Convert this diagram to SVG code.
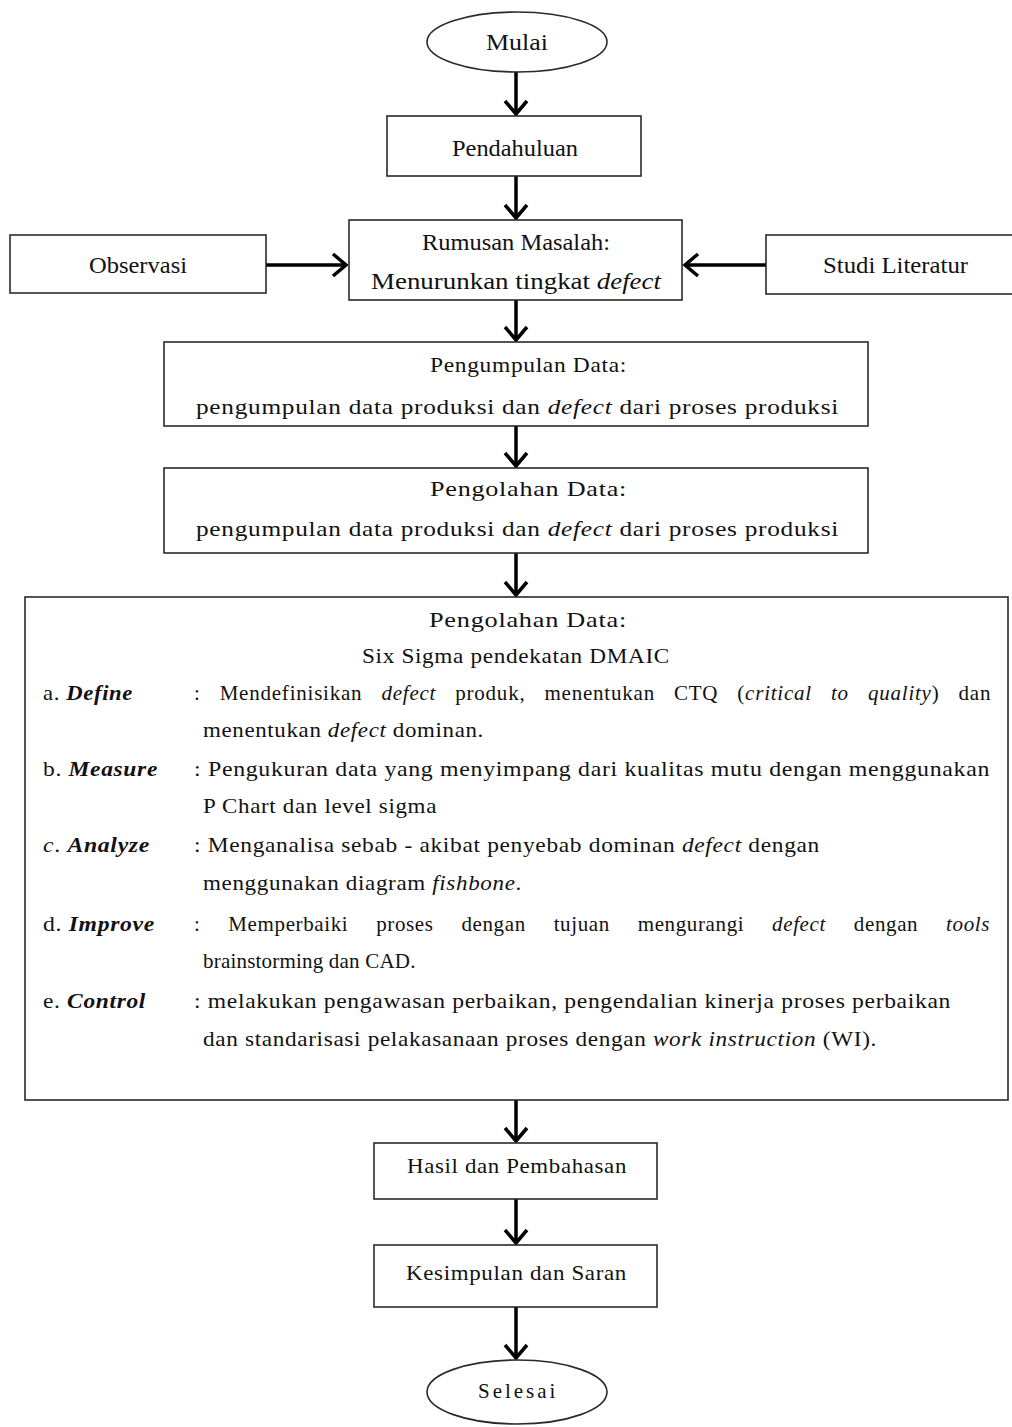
<svg xmlns="http://www.w3.org/2000/svg" width="1012" height="1427" viewBox="0 0 1012 1427">
<style>
.box{fill:#fff;stroke:#2a2a2a;stroke-width:1.6}
.t{font-family:"Liberation Serif","Times New Roman",serif;fill:#111}
.big{font-size:24px}
.n{font-size:21px;letter-spacing:0.6px}
.i{font-style:italic}
.bi{font-style:italic;font-weight:bold}
.c{fill:none;stroke:#000;stroke-width:3.5}
</style>
<defs>
<marker id="arr" viewBox="0 0 18 26" refX="15" refY="13" markerWidth="18" markerHeight="26" markerUnits="userSpaceOnUse" orient="auto">
<path d="M2,2 L15,13 L2,24" fill="none" stroke="#000" stroke-width="3.5"/>
</marker>
</defs>
<rect width="1012" height="1427" fill="#fff"/>

<g id="connectors">
<path class="c" d="M516,72 V114" marker-end="url(#arr)"/>
<path class="c" d="M516,176 V218" marker-end="url(#arr)"/>
<path class="c" d="M266,265 H346" marker-end="url(#arr)"/>
<path class="c" d="M766,265 H685" marker-end="url(#arr)"/>
<path class="c" d="M516,300 V340" marker-end="url(#arr)"/>
<path class="c" d="M516,426 V466" marker-end="url(#arr)"/>
<path class="c" d="M516,553 V595" marker-end="url(#arr)"/>
<path class="c" d="M516,1100 V1141" marker-end="url(#arr)"/>
<path class="c" d="M516,1199 V1243" marker-end="url(#arr)"/>
<path class="c" d="M516,1307 V1358" marker-end="url(#arr)"/>
</g>

<g id="mulai">
<ellipse class="box" cx="517" cy="42" rx="90" ry="30"/>
<text class="t big" x="486" y="50" textLength="62" lengthAdjust="spacingAndGlyphs">Mulai</text>
</g>

<g id="pendahuluan">
<rect class="box" x="387" y="116" width="254" height="60"/>
<text class="t big" x="452" y="156" textLength="126" lengthAdjust="spacingAndGlyphs">Pendahuluan</text>
</g>

<g id="observasi">
<rect class="box" x="10" y="235" width="256" height="58"/>
<text class="t big" x="89" y="273" textLength="98" lengthAdjust="spacingAndGlyphs">Observasi</text>
</g>

<g id="rumusan">
<rect class="box" x="349" y="220" width="333" height="80"/>
<text class="t big" x="422" y="250" textLength="188" lengthAdjust="spacingAndGlyphs">Rumusan Masalah:</text>
<text class="t big" x="371" y="289" textLength="290" lengthAdjust="spacingAndGlyphs">Menurunkan tingkat <tspan class="i">defect</tspan></text>
</g>

<g id="studi">
<rect class="box" x="766" y="235" width="260" height="59"/>
<text class="t big" x="823" y="273" textLength="145" lengthAdjust="spacingAndGlyphs">Studi Literatur</text>
</g>

<g id="pengumpulan">
<rect class="box" x="164" y="342" width="704" height="84"/>
<text class="t n" x="430" y="372" textLength="197" lengthAdjust="spacingAndGlyphs">Pengumpulan Data:</text>
<text class="t n" x="196" y="414" textLength="643" lengthAdjust="spacingAndGlyphs">pengumpulan data produksi dan <tspan class="i">defect</tspan> dari proses produksi</text>
</g>

<g id="pengolahan">
<rect class="box" x="164" y="468" width="704" height="85"/>
<text class="t n" x="430" y="496" textLength="197" lengthAdjust="spacingAndGlyphs">Pengolahan Data:</text>
<text class="t n" x="196" y="536" textLength="643" lengthAdjust="spacingAndGlyphs">pengumpulan data produksi dan <tspan class="i">defect</tspan> dari proses produksi</text>
</g>

<g id="dmaic">
<rect class="box" x="25" y="597" width="983" height="503"/>
<text class="t n" x="429" y="627" textLength="198" lengthAdjust="spacingAndGlyphs">Pengolahan Data:</text>
<text class="t n" x="362" y="663" textLength="308" lengthAdjust="spacingAndGlyphs">Six Sigma pendekatan DMAIC</text>
<text class="t n" x="43" y="700" textLength="90" lengthAdjust="spacingAndGlyphs">a. <tspan class="bi">Define</tspan></text>
<text class="t n" x="194" y="700" textLength="797" lengthAdjust="spacing" style="word-spacing:13px">: Mendefinisikan <tspan class="i">defect</tspan> produk, menentukan CTQ (<tspan class="i">critical to quality</tspan>) dan</text>
<text class="t n" x="203" y="737" textLength="281" lengthAdjust="spacingAndGlyphs">menentukan <tspan class="i">defect</tspan> dominan.</text>
<text class="t n" x="43" y="776" textLength="115" lengthAdjust="spacingAndGlyphs">b. <tspan class="bi">Measure</tspan></text>
<text class="t n" x="194" y="776" textLength="796" lengthAdjust="spacingAndGlyphs">: Pengukuran data yang menyimpang dari kualitas mutu dengan menggunakan</text>
<text class="t n" x="203" y="813" textLength="234" lengthAdjust="spacingAndGlyphs">P Chart dan level sigma</text>
<text class="t n" x="43" y="852" textLength="107" lengthAdjust="spacingAndGlyphs"><tspan class="i">c</tspan>. <tspan class="bi">Analyze</tspan></text>
<text class="t n" x="194" y="852" textLength="626" lengthAdjust="spacingAndGlyphs">: Menganalisa sebab - akibat penyebab dominan <tspan class="i">defect</tspan> dengan</text>
<text class="t n" x="203" y="890" textLength="319" lengthAdjust="spacingAndGlyphs">menggunakan diagram <tspan class="i">fishbone</tspan>.</text>
<text class="t n" x="43" y="931" textLength="112" lengthAdjust="spacingAndGlyphs">d. <tspan class="bi">Improve</tspan></text>
<text class="t n" x="194" y="931" textLength="796" lengthAdjust="spacing" style="word-spacing:22px">: Memperbaiki proses dengan tujuan mengurangi <tspan class="i">defect</tspan> dengan <tspan class="i">tools</tspan></text>
<text class="t n" x="203" y="968" style="letter-spacing:0.2px">brainstorming dan CAD.</text>
<text class="t n" x="43" y="1008" textLength="103" lengthAdjust="spacingAndGlyphs">e. <tspan class="bi">Control</tspan></text>
<text class="t n" x="194" y="1008" textLength="757" lengthAdjust="spacingAndGlyphs">: melakukan pengawasan perbaikan, pengendalian kinerja proses  perbaikan</text>
<text class="t n" x="203" y="1046" textLength="674" lengthAdjust="spacingAndGlyphs">dan  standarisasi pelakasanaan proses dengan <tspan class="i">work instruction</tspan> (WI).</text>
</g>

<g id="hasil">
<rect class="box" x="374" y="1143" width="283" height="56"/>
<text class="t n" x="407" y="1173" textLength="220" lengthAdjust="spacingAndGlyphs">Hasil dan Pembahasan</text>
</g>

<g id="kesimpulan">
<rect class="box" x="374" y="1245" width="283" height="62"/>
<text class="t n" x="406" y="1280" textLength="221" lengthAdjust="spacingAndGlyphs">Kesimpulan dan Saran</text>
</g>

<g id="selesai">
<ellipse class="box" cx="517" cy="1392" rx="90" ry="32"/>
<text class="t n" x="478" y="1398" textLength="78" lengthAdjust="spacing">Selesai</text>
</g>
</svg>
